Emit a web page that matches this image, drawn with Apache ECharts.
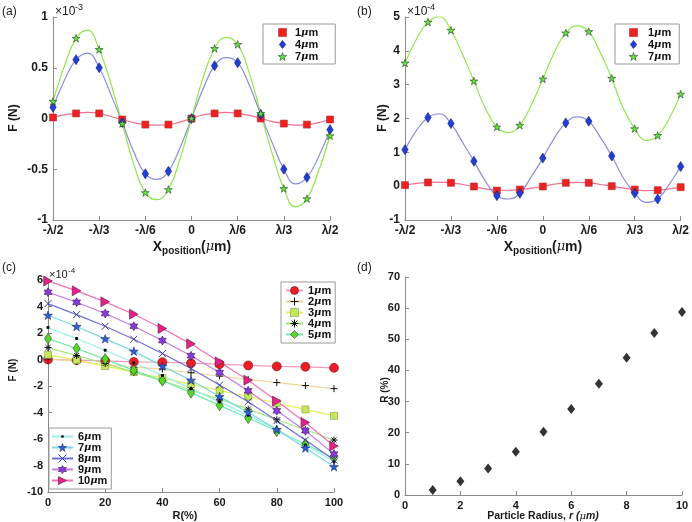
<!DOCTYPE html>
<html><head><meta charset="utf-8">
<script src="https://cdn.jsdelivr.net/npm/echarts@6/dist/echarts.min.js"></script>
<style>html,body{margin:0;padding:0;background:#fff}#c{width:692px;height:522px}</style>
</head><body><div id="c"></div>
<script>
// ---------- DATA ----------
// x positions in units of lambda/12
const posMarkers = [-6,-5,-4,-3,-2,-1,0,1,2,3,4,5,6];
const posCurve = [-6,-5.5,-5,-4.5,-4,-3.5,-3,-2.5,-2,-1.5,-1,-0.5,0,0.5,1,1.5,2,2.5,3,3.5,4,4.5,5,5.5,6];
const posTickLabels = ['-λ/2','-λ/3','-λ/6','0','λ/6','λ/3','λ/2'];

// panel (a), x1e-3 N
const aMark1 = [0.01,0.05,0.05,-0.01,-0.06,-0.06,0,0.05,0.05,0.0,-0.05,-0.06,-0.01];
const aMark4 = [0.11,0.58,0.50,-0.04,-0.545,-0.52,0,0.52,0.55,0.04,-0.50,-0.58,-0.11];
const aMark7 = [0.17,0.79,0.68,-0.05,-0.73,-0.70,0,0.69,0.73,0.05,-0.69,-0.79,-0.17];
const aFit1 = [0.01,0.035,0.05,0.06,0.05,0.02,-0.01,-0.04,-0.06,-0.065,-0.06,-0.035,0,0.035,0.05,0.06,0.05,0.03,0.0,-0.03,-0.05,-0.065,-0.06,-0.04,-0.01];
const aFit4 = [0.11,0.38,0.58,0.645,0.50,0.24,-0.04,-0.33,-0.545,-0.60,-0.52,-0.29,0,0.29,0.52,0.60,0.55,0.33,0.04,-0.24,-0.50,-0.645,-0.58,-0.38,-0.11];
const aFit7 = [0.17,0.52,0.79,0.87,0.68,0.35,-0.05,-0.45,-0.73,-0.80,-0.70,-0.40,0,0.40,0.69,0.80,0.73,0.45,0.05,-0.35,-0.69,-0.87,-0.79,-0.52,-0.17];

// panel (b), x1e-4 N
const bMark1 = [0.03,0.11,0.10,-0.01,-0.13,-0.10,-0.01,0.10,0.10,0.0,-0.10,-0.12,-0.03];
const bMark4 = [1.08,2.03,1.85,0.74,-0.28,-0.21,0.83,1.87,1.92,0.89,-0.21,-0.38,0.58];
const bMark7 = [3.64,4.85,4.61,3.11,1.75,1.80,3.17,4.53,4.57,3.19,1.70,1.50,2.72];
const bFit1 = [0.03,0.08,0.11,0.12,0.10,0.05,-0.01,-0.08,-0.12,-0.12,-0.10,-0.06,-0.01,0.06,0.10,0.11,0.10,0.05,0.0,-0.06,-0.10,-0.13,-0.12,-0.08,-0.03];
const bFit4 = [1.08,1.65,2.03,2.14,1.85,1.30,0.74,0.15,-0.28,-0.38,-0.21,0.28,0.83,1.42,1.87,2.05,1.92,1.45,0.89,0.25,-0.21,-0.48,-0.38,0.05,0.58];
const bFit7 = [3.64,4.35,4.85,5.01,4.61,3.90,3.11,2.30,1.75,1.58,1.80,2.40,3.17,3.95,4.53,4.74,4.57,3.95,3.19,2.30,1.70,1.35,1.50,2.00,2.72];

// panel (c), x1e-4 N vs R(%)
const cR = [0,10,20,30,40,50,60,70,80,90,100];
const c1 = [0.0,-0.05,-0.1,-0.18,-0.2,-0.28,-0.35,-0.45,-0.52,-0.55,-0.63];
const c2 = [0.05,-0.15,-0.38,-0.58,-0.72,-1.0,-1.25,-1.5,-1.74,-1.97,-2.2];
const c3 = [0.35,-0.05,-0.5,-0.95,-1.4,-1.88,-2.34,-2.8,-3.3,-3.77,-4.25];
const c4 = [0.9,0.3,-0.3,-0.95,-1.6,-2.3,-3.0,-3.75,-4.55,-5.3,-6.08];
const c5 = [1.58,0.83,0.03,-0.82,-1.6,-2.5,-3.46,-4.42,-5.4,-6.38,-7.46];
const c6 = [2.41,1.58,0.7,-0.25,-1.2,-2.2,-3.2,-4.2,-5.3,-6.45,-7.7];
const c7 = [3.34,2.49,1.56,0.63,-0.5,-1.56,-2.8,-3.98,-5.28,-6.68,-8.09];
const c8 = [4.22,3.39,2.51,1.53,0.45,-0.68,-1.93,-3.19,-4.62,-6.08,-7.59];
const c9 = [5.08,4.32,3.47,2.51,1.43,0.28,-0.98,-2.36,-3.87,-5.38,-7.14];
const c10 = [5.93,5.18,4.35,3.42,2.34,1.18,-0.18,-1.56,-3.14,-4.75,-6.53];

// panel (d)
const dRadius = [1,2,3,4,5,6,7,8,9,10];
const dR = [1.6,4.4,8.5,13.9,20.3,27.6,35.7,44.1,52.0,58.8];

// ---------- helpers ----------
const zip = (xs, ys) => xs.map((x, i) => [x, ys[i]]);
const FF = '"Liberation Sans", Arial, sans-serif';
const SQ = 'path://M0,0 L10,0 L10,10 L0,10 Z';
const DIA = 'path://M40,0 L80,50 L40,100 L0,50 Z';
const STAR5 = 'path://M100,0 L122.45,69.1 L195.1,69.1 L136.3,111.8 L158.8,180.9 L100,138.2 L41.2,180.9 L63.7,111.8 L4.9,69.1 L77.55,69.1 Z';
const STAR6 = 'path://M100,0 L128.9,50 L186.6,50 L157.7,100 L186.6,150 L128.9,150 L100,200 L71.1,150 L13.4,150 L42.3,100 L13.4,50 L71.1,50 Z';
const TRI_R = 'path://M0,0 L173,100 L0,200 Z';
const PLUS = 'path://M100,0 L100,200 M0,100 L200,100';
const CROSS = 'path://M0,0 L200,200 M0,200 L200,0';
const ASTER = 'path://M100,0 L100,200 M0,100 L200,100 M29,29 L171,171 M29,171 L171,29';
const DOT = 'path://M0,0 M100,100 M42,35 L58,35 L65,42 L65,58 L58,65 L42,65 L35,58 L35,42 Z';

const axisColor = '#8a8a8a';
function ax(extra, fs) {
  return Object.assign({
    type: 'value',
    axisLine: { show: true, onZero: false, lineStyle: { color: axisColor, width: 1 } },
    axisTick: { show: true, inside: true, length: 4, lineStyle: { color: axisColor } },
    axisLabel: { color: '#1a1a1a', fontWeight: 'bold', fontSize: fs || 12, fontFamily: FF, margin: 5 },
    splitLine: { show: false }
  }, extra);
}

const fitLine = (name, xi, data, color) => ({
  type: 'line', name: name, xAxisIndex: xi, yAxisIndex: xi, data: data,
  smooth: 0.45, symbol: 'none', silent: true, z: 2,
  lineStyle: { color: color, width: 1.2 }
});
const marks = (name, xi, data, symbol, size, color, border) => ({
  type: 'scatter', name: name, xAxisIndex: xi, yAxisIndex: xi, data: data,
  symbol: symbol, symbolSize: size, symbolKeepAspect: true, z: 3,
  itemStyle: { color: color, borderColor: border, borderWidth: 0.6, opacity: 1 }
});
const cLine = (name, data, lineColor, symbol, size, color, border, bw) => ({
  type: 'line', name: name, xAxisIndex: 2, yAxisIndex: 2, data: zip(cR, data),
  symbol: symbol, symbolSize: size, showAllSymbol: true, symbolKeepAspect: true,
  lineStyle: { color: lineColor, width: 1.2 },
  itemStyle: { color: color, borderColor: border, borderWidth: bw === undefined ? 0.6 : bw }
});

const legendText = {
  fontFamily: FF, fontWeight: 'bold', fontSize: 11, color: '#111',
  rich: {
    t: { fontFamily: FF, fontWeight: 'bold', fontSize: 11, color: '#111', lineHeight: 12 },
    mu: { fontFamily: 'DejaVu Serif', fontStyle: 'italic', fontSize: 10, color: '#111', lineHeight: 12 }
  }
};
const legendFmt = n => '{t|' + n.slice(1) + '}{mu|μ}{t|m}';
const legBase = {
  orient: 'vertical', selectedMode: false, backgroundColor: '#fff',
  borderColor: '#9a9a9a', borderWidth: 1, borderRadius: 0,
  textStyle: legendText, formatter: legendFmt, symbolKeepAspect: true,
  itemStyle: { borderWidth: 0.6 }
};
const li = (name, bw) => ({ name: name, itemStyle: { borderWidth: bw } });

const txt = (x, y, text, font, opt) => Object.assign({
  type: 'text', x: x, y: y,
  style: Object.assign({ text: text, font: font, fill: '#1a1a1a', align: 'left', verticalAlign: 'middle' }, (opt && opt.style) || {})
}, opt && opt.rotation ? { rotation: opt.rotation } : {});

const xRich = { b: { font: 'bold 14px ' + FF, fill: '#1a1a1a', verticalAlign: 'middle', lineHeight: 18 },
                s: { font: 'bold 10px ' + FF, fill: '#1a1a1a', verticalAlign: 'bottom', lineHeight: 12, padding: [8, 0, 0, 0] },
                m: { font: 'italic 13px "DejaVu Serif"', fill: '#1a1a1a', verticalAlign: 'middle', lineHeight: 18 } };

const chart = echarts.init(document.getElementById('c'), null, { renderer: 'canvas' });
chart.setOption({
  backgroundColor: '#fff',
  animation: false,
  grid: [
    { left: 53, top: 17, width: 277, height: 203 },
    { left: 405, top: 17, width: 276, height: 203 },
    { left: 48, top: 280, width: 286, height: 212 },
    { left: 405, top: 277, width: 277, height: 218 }
  ],
  xAxis: [
    ax({ gridIndex: 0, min: -6, max: 6, interval: 2, axisLabel: { color: '#1a1a1a', fontWeight: 'bold', fontSize: 12, fontFamily: FF, margin: 5, formatter: v => posTickLabels[Math.round((v + 6) / 2)] } }),
    ax({ gridIndex: 1, min: -6, max: 6, interval: 2, axisLabel: { color: '#1a1a1a', fontWeight: 'bold', fontSize: 12, fontFamily: FF, margin: 5, formatter: v => posTickLabels[Math.round((v + 6) / 2)] } }),
    ax({ gridIndex: 2, min: 0, max: 100, interval: 20 }, 11),
    ax({ gridIndex: 3, min: 0, max: 10, interval: 2 }, 11)
  ],
  yAxis: [
    ax({ gridIndex: 0, min: -1, max: 1, interval: 0.5 }),
    ax({ gridIndex: 1, min: -1, max: 5, interval: 1 }),
    ax({ gridIndex: 2, min: -10, max: 6, interval: 2 }, 11),
    ax({ gridIndex: 3, min: 0, max: 70, interval: 10 }, 11)
  ],
  legend: [
    Object.assign({}, legBase, { data: ['a1', 'a4', 'a7'], left: 263, top: 24, itemWidth: 15, itemHeight: 8, itemGap: 1, padding: [3, 17, 2, 15] }),
    Object.assign({}, legBase, { data: ['b1', 'b4', 'b7'], left: 615, top: 24, itemWidth: 19, itemHeight: 8, itemGap: 1, padding: [3, 8, 2, 14] }),
    Object.assign({}, legBase, { data: [li('c1', 0.6), li('c2', 1), li('c3', 0.6), li('c4', 1), li('c5', 0.6)], left: 281, top: 282, itemWidth: 17, itemHeight: 10, itemGap: 0, padding: [3, 4, 3, 4] }),
    Object.assign({}, legBase, { data: [li('c6', 0), li('c7', 0.6), li('c8', 1), li('c9', 0.6), li('c10', 0.6)], left: 49, top: 428, itemWidth: 21, itemHeight: 10, itemGap: 0, padding: [3, 4, 3, 2] })
  ],
  series: [
    fitLine('fa1', 0, zip(posCurve, aFit1), '#f2708e'),
    fitLine('fa4', 0, zip(posCurve, aFit4), '#8c8ce0'),
    fitLine('fa7', 0, zip(posCurve, aFit7), '#8ee84a'),
    marks('a1', 0, zip(posMarkers, aMark1), SQ, 7, '#ee2020', '#b03030'),
    marks('a4', 0, zip(posMarkers, aMark4), DIA, [8, 10], '#1f3fd8', '#14206a'),
    marks('a7', 0, zip(posMarkers, aMark7), STAR5, 8, '#5ee83a', '#2a3a2a'),

    fitLine('fb1', 1, zip(posCurve, bFit1), '#f2708e'),
    fitLine('fb4', 1, zip(posCurve, bFit4), '#8c8ce0'),
    fitLine('fb7', 1, zip(posCurve, bFit7), '#8ee84a'),
    marks('b1', 1, zip(posMarkers, bMark1), SQ, 7, '#ee2020', '#b03030'),
    marks('b4', 1, zip(posMarkers, bMark4), DIA, [8, 10], '#1f3fd8', '#14206a'),
    marks('b7', 1, zip(posMarkers, bMark7), STAR5, 8, '#5ee83a', '#2a3a2a'),

    cLine('c1', c1, '#f59ac0', 'circle', 9, '#ee1c25', '#6a1a1a'),
    cLine('c2', c2, '#f0d79a', PLUS, 7, '#000', '#111', 1),
    cLine('c3', c3, '#e4ee5a', SQ, 7, '#c4e85a', '#8a9a4a'),
    cLine('c4', c4, '#9de87a', ASTER, 7, '#000', '#111', 1),
    cLine('c5', c5, '#72e8b0', DIA, [9, 11], '#58d62c', '#2a4a2a'),
    cLine('c6', c6, '#9af0e2', DOT, 10, '#000', '#000', 0),
    cLine('c7', c7, '#78d8de', STAR5, 9, '#2f5fe0', '#1a2a6a'),
    cLine('c8', c8, '#7070d8', CROSS, 7, '#404090', '#404090', 1),
    cLine('c9', c9, '#c878e0', STAR6, 9, '#8a3ad8', '#3a1a5a'),
    cLine('c10', c10, '#f070b8', TRI_R, 10, '#e8208a', '#5a1a3a'),

    { type: 'scatter', name: 'd', xAxisIndex: 3, yAxisIndex: 3, data: zip(dRadius, dR),
      symbol: 'diamond', symbolSize: [8, 10], itemStyle: { color: '#000' } }
  ],
  graphic: [
    txt(2, 12, '(a)', '12px ' + FF),
    txt(357, 12, '(b)', '12px ' + FF),
    txt(2, 268, '(c)', '12px ' + FF),
    txt(357, 268, '(d)', '12px ' + FF),

    txt(55, 11.5, '×10', '12px ' + FF),
    txt(75, 7.5, '-3', '9px ' + FF),
    txt(407, 11.5, '×10', '12px ' + FF),
    txt(427, 7.5, '-4', '9px ' + FF),
    txt(49, 275, '×10', '11px ' + FF),
    txt(68, 271, '-4', '8px ' + FF),

    txt(13.5, 118, 'F (N)', 'bold 12px ' + FF, { rotation: Math.PI / 2, style: { align: 'center' } }),
    txt(382.5, 118, 'F (N)', 'bold 12px ' + FF, { rotation: Math.PI / 2, style: { align: 'center' } }),
    txt(13, 370, 'F (N)', 'bold 10px ' + FF, { rotation: Math.PI / 2, style: { align: 'center' } }),
    txt(385, 390, 'R (%)', 'bold 10px ' + FF, { rotation: Math.PI / 2, style: { align: 'center' } }),

    { type: 'text', x: 192, y: 247, style: { text: '{b|X}{s|position}{b|(}{m|μ}{b|m)}', align: 'center', verticalAlign: 'middle', rich: xRich } },
    { type: 'text', x: 543, y: 247, style: { text: '{b|X}{s|position}{b|(}{m|μ}{b|m)}', align: 'center', verticalAlign: 'middle', rich: xRich } },
    txt(185, 516, 'R(%)', 'bold 11px ' + FF, { style: { align: 'center' } }),
    { type: 'text', x: 543, y: 516, style: { text: '{b|Particle Radius, }{i|r (}{m|μ}{i|m)}', align: 'center', verticalAlign: 'middle',
      rich: { b: { font: 'bold 10.5px ' + FF, fill: '#1a1a1a' },
              i: { font: 'italic bold 10.5px ' + FF, fill: '#1a1a1a' },
              m: { font: 'italic 10px "DejaVu Serif"', fill: '#1a1a1a' } } } }
  ]
});
</script>
</body></html>
